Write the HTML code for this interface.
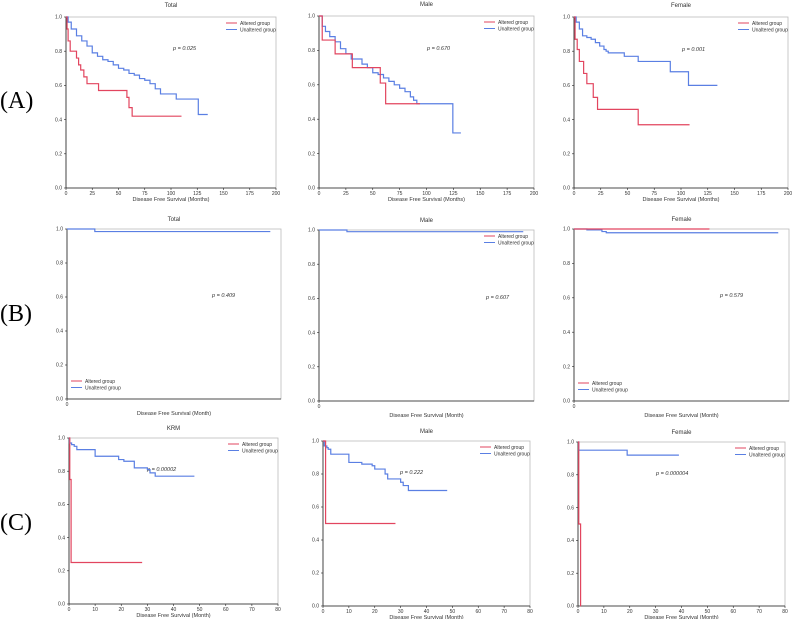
<!DOCTYPE html>
<html><head><meta charset="utf-8"><style>
body{margin:0;background:#fff;}
svg text{font-family:"Liberation Sans",sans-serif;}
</style></head><body>
<svg id="fig" width="793" height="619" viewBox="0 0 793 619" xmlns="http://www.w3.org/2000/svg">
<text x="0" y="108" font-family="Liberation Serif" style="font-family:'Liberation Serif',serif" font-size="24">(A)</text>
<text x="0" y="321" style="font-family:'Liberation Serif',serif" font-size="24">(B)</text>
<text x="0" y="530" style="font-family:'Liberation Serif',serif" font-size="24">(C)</text>
</svg>
<script>
// ---- data (months, survival) ----
const aTotalAltT=[0,1,2,4,10,12,14,17,20,31,58,60,63,110];
const aTotalAltS=[1,0.93,0.86,0.80,0.76,0.72,0.69,0.65,0.61,0.57,0.53,0.47,0.42,0.42];
const aTotalUnT=[0,2,5,10,15,20,25,30,35,40,45,50,55,60,65,70,75,80,85,90,100,105,125,126,135];
const aTotalUnS=[1,0.97,0.93,0.89,0.86,0.83,0.79,0.77,0.75,0.74,0.72,0.70,0.69,0.67,0.66,0.64,0.63,0.61,0.58,0.55,0.55,0.52,0.52,0.43,0.43];
const aMaleAltT=[0,3,15,31,57,62,94];
const aMaleAltS=[1,0.86,0.78,0.70,0.61,0.49,0.49];
const aMaleUnT=[0,3,6,10,15,20,25,30,40,45,50,55,60,65,70,75,80,85,88,91,124,124.5,132];
const aMaleUnS=[1,0.94,0.91,0.88,0.85,0.81,0.78,0.75,0.72,0.70,0.67,0.66,0.64,0.62,0.60,0.58,0.56,0.53,0.51,0.49,0.49,0.32,0.32];
const aFemAltT=[0,1,3,5,9,12,18,22,60,108];
const aFemAltS=[1,0.87,0.81,0.74,0.67,0.61,0.53,0.46,0.37,0.37];
const aFemUnT=[0,2,5,8,12,16,20,24,28,30,32,47,60,90,107,134];
const aFemUnS=[1,0.97,0.93,0.89,0.88,0.87,0.85,0.83,0.81,0.80,0.79,0.77,0.74,0.68,0.60,0.60];
const bTotalUnT=[0,13,95];
const bTotalUnS=[1,0.985,0.985];
const bMaleUnT=[0,13,95];
const bMaleUnS=[1,0.99,0.99];
const bFemAltT=[0,63];
const bFemAltS=[1,1];
const bFemUnT=[0,6,13,15,95];
const bFemUnS=[1,0.995,0.985,0.978,0.978];
const cTotalAltT=[0,0.3,0.8,28];
const cTotalAltS=[1,0.75,0.25,0.25];
const cTotalUnT=[0,0.2,1,2,3,10,15,19,21,25,30,31,33,48];
const cTotalUnS=[1,0.97,0.96,0.95,0.93,0.89,0.89,0.87,0.86,0.82,0.81,0.79,0.77,0.77];
const cMaleAltT=[0,1,28];
const cMaleAltS=[1,0.5,0.5];
const cMaleUnT=[0,0.5,1.5,2,3,10,15,19,20,24,25,30,31,33,48];
const cMaleUnS=[1,0.97,0.96,0.95,0.92,0.87,0.86,0.85,0.83,0.80,0.77,0.75,0.73,0.70,0.70];
const cFemAltT=[0,0.3,1,1.01];
const cFemAltS=[1,0.5,0,0];
const cFemUnT=[0,0.3,19,39];
const cFemUnS=[1,0.95,0.92,0.92];
const xTicksA=[0,25,50,75,100,125,150,175,200];
const xTicksB=[0];
const xTicksC=[0,10,20,30,40,50,60,70,80];
const yTicks=[0,0.2,0.4,0.6,0.8,1.0];
const pLabels=["p = 0.025","p = 0.670","p = 0.001","p = 0.409","p = 0.607","p = 0.579","p = 0.00002","p = 0.222","p = 0.000004"];
const titles=["Total","Male","Female","Total","Male","Female","KRM","Male","Female"];

const RED="#e2455f", BLUE="#5a7fe3";
const svg=document.getElementById('fig');
const NS="http://www.w3.org/2000/svg";
function mk(tag,attrs,parent){const e=document.createElementNS(NS,tag);for(const k in attrs)e.setAttribute(k,attrs[k]);(parent||svg).appendChild(e);return e;}

const panels=[
 {name:'a-total',L:66,R:276,T:17,B:188,xmax:200,ticks:xTicksA,xl:"Disease Free Survival (Months)",alt:[aTotalAltT,aTotalAltS],un:[aTotalUnT,aTotalUnS],p:[173,50],leg:'tr'},
 {name:'a-male',L:319,R:534,T:16,B:188,xmax:200,ticks:xTicksA,xl:"Disease Free Survival (Months)",alt:[aMaleAltT,aMaleAltS],un:[aMaleUnT,aMaleUnS],p:[427,50],leg:'tr'},
 {name:'a-female',L:574,R:788,T:17,B:188,xmax:200,ticks:xTicksA,xl:"Disease Free Survival (Months)",alt:[aFemAltT,aFemAltS],un:[aFemUnT,aFemUnS],p:[682,51],leg:'tr'},
 {name:'b-total',L:67,R:281,T:229,B:399,xmax:100,ticks:xTicksB,xl:"Disease Free Survival (Month)",alt:null,un:[bTotalUnT,bTotalUnS],p:[212,297],leg:'bl'},
 {name:'b-male',L:319,R:534,T:230,B:401,xmax:100,ticks:xTicksB,xl:"Disease Free Survival (Month)",alt:null,un:[bMaleUnT,bMaleUnS],p:[486,299],leg:'tr'},
 {name:'b-female',L:574,R:789,T:229,B:401,xmax:100,ticks:xTicksB,xl:"Disease Free Survival (Month)",alt:[bFemAltT,bFemAltS],un:[bFemUnT,bFemUnS],p:[720,297],leg:'bl'},
 {name:'c-total',L:69,R:278,T:438,B:604,xmax:80,ticks:xTicksC,xl:"Disease Free Survival (Month)",alt:[cTotalAltT,cTotalAltS],un:[cTotalUnT,cTotalUnS],p:[147,471],leg:'tr'},
 {name:'c-male',L:323,R:530,T:441,B:606,xmax:80,ticks:xTicksC,xl:"Disease Free Survival (Month)",alt:[cMaleAltT,cMaleAltS],un:[cMaleUnT,cMaleUnS],p:[400,474],leg:'tr'},
 {name:'c-female',L:578,R:785,T:442,B:606,xmax:80,ticks:xTicksC,xl:"Disease Free Survival (Month)",alt:[cFemAltT,cFemAltS],un:[cFemUnT,cFemUnS],p:[656,475],leg:'tr'}
];

panels.forEach((P,i)=>{
 const g=mk('g',{});
 
 
 const xs=v=>P.L+v/P.xmax*(P.R-P.L);
 const ys=v=>P.B-v*(P.B-P.T);
 const box=mk('rect',{x:P.L,y:P.T,width:P.R-P.L,height:P.B-P.T,fill:'none',stroke:'#bbb','stroke-width':0.8},g);
 
 
 mk('line',{x1:P.L,y1:P.T,x2:P.L,y2:P.B,stroke:'#222','stroke-width':0.8},g);
 mk('line',{x1:P.L,y1:P.B,x2:P.R,y2:P.B,stroke:'#222','stroke-width':0.8},g);
 yTicks.forEach(t=>{
  mk('line',{x1:P.L-2,y1:ys(t),x2:P.L,y2:ys(t),stroke:'#222','stroke-width':0.6},g);
  const tx=mk('text',{x:P.L-4,y:ys(t)+1.7,'font-size':5,'text-anchor':'end',fill:'#333'},g);
  tx.textContent=t.toFixed(1);
  
  
 });
 P.ticks.forEach(t=>{
  mk('line',{x1:xs(t),y1:P.B,x2:xs(t),y2:P.B+2,stroke:'#222','stroke-width':0.6},g);
  const tx=mk('text',{x:xs(t),y:P.B+7,'font-size':5,'text-anchor':'middle',fill:'#333'},g);
  tx.textContent=t;
  
  
 });
 const xl=mk('text',{x:(P.L+P.R)/2,y:P.B+(P.ticks.length>1?13:16),'font-size':5.5,'text-anchor':'middle',fill:'#333'},g);
 xl.textContent=P.xl;
 
 
 const tt=mk('text',{x:(P.L+P.R)/2,y:P.T-(i<3?10:8),'font-size':6,'text-anchor':'middle',fill:'#333'},g);
 tt.textContent=titles[i];
 
 
 const pt=mk('text',{x:P.p[0],y:P.p[1],'font-size':5.5,'font-style':'italic',fill:'#333'},g);
 pt.textContent=pLabels[i];
 
 
 function step(T,S,col,nm){
  let d='M'+xs(T[0])+','+ys(S[0]);
  for(let k=1;k<T.length;k++){d+=' H'+xs(T[k])+' V'+ys(S[k]);}
  const p=mk('path',{d:d,fill:'none',stroke:col,'stroke-width':1.2},g);
  
  
 }
 if(P.un) step(P.un[0],P.un[1],BLUE,'unaltered-curve');
 if(P.alt) step(P.alt[0],P.alt[1],RED,'altered-curve');
 let lx,ly;
 if(P.leg==='tr'){lx=P.R-50;ly=P.T+6;} else {lx=P.L+4;ly=P.B-18;}
 [["Altered group",RED],["Unaltered group",BLUE]].forEach((e,k)=>{
  mk('line',{x1:lx,y1:ly+k*6.5,x2:lx+11,y2:ly+k*6.5,stroke:e[1],'stroke-width':1},g);
  const t=mk('text',{x:lx+14,y:ly+k*6.5+1.8,'font-size':5,fill:'#333'},g);
  t.textContent=e[0];
  
  
 });
});
</script>
</body></html>
